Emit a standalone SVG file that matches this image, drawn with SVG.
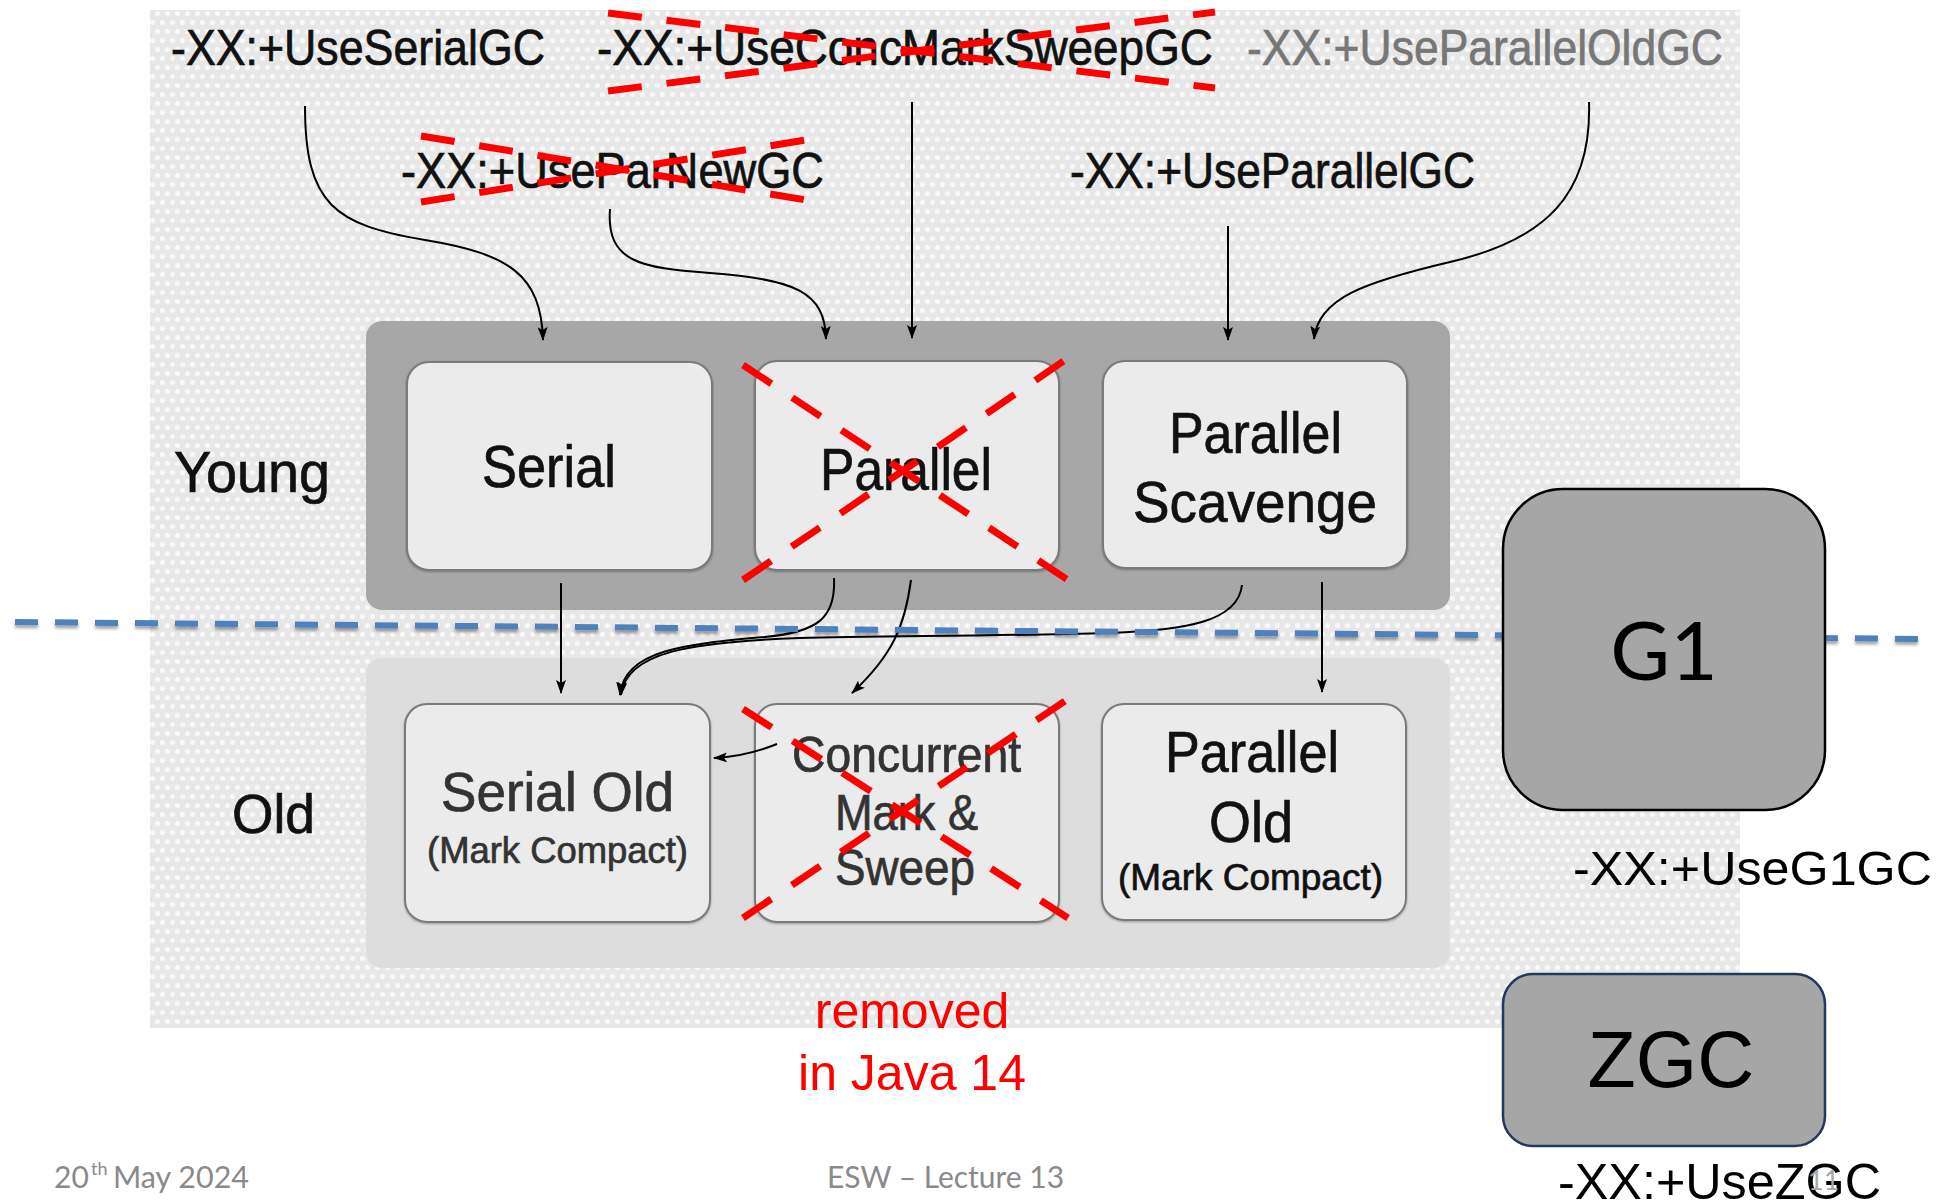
<svg xmlns="http://www.w3.org/2000/svg" width="1951" height="1202" viewBox="0 0 1951 1202">
  <defs>
    <pattern id="dots" width="10" height="18" patternUnits="userSpaceOnUse">
      <rect width="10" height="18" fill="#e7e7e7"/>
      <circle cx="2.5" cy="4.5" r="2.6" fill="#f8f8f8"/>
      <circle cx="7.5" cy="13.5" r="2.6" fill="#f8f8f8"/>
    </pattern>
    <marker id="head" viewBox="0 0 14 10" refX="13" refY="5" markerWidth="14" markerHeight="10" markerUnits="userSpaceOnUse" orient="auto">
      <path d="M0,0 L14,5 L0,10 L3,5 z" fill="#000"/>
    </marker>
    <filter id="dashShadow" x="-5%" y="-200%" width="110%" height="500%">
      <feDropShadow dx="0" dy="3" stdDeviation="1.5" flood-color="#000" flood-opacity="0.35"/>
    </filter>
    <filter id="boxShadow" x="-10%" y="-10%" width="120%" height="120%">
      <feDropShadow dx="0" dy="1" stdDeviation="1.2" flood-color="#000" flood-opacity="0.3"/>
    </filter>
  </defs>
  <style>
    .lbl { font-family: "Liberation Sans", Arial, sans-serif; fill: #111; stroke: #111; stroke-width: 0.7; }
    .dim { fill: #333; stroke: #333; }
    .grey { fill: #777; stroke: #777; }
    .plain { fill: #000; stroke: none; }
    .inner { fill: #ebebeb; stroke: #7a7a7a; stroke-width: 2; }
    .conn { fill: none; stroke: #000; stroke-width: 2; marker-end: url(#head); }
    .cross { fill: none; stroke: #ff0000; stroke-width: 7; stroke-dasharray: 34 25; }
    .calibri { font-family: Lato, "Liberation Sans", sans-serif; fill: #8a8a8a; }
  </style>

  <rect width="1951" height="1202" fill="#ffffff"/>
  <!-- textured backdrop behind the collector chart -->
  <rect x="150" y="10" width="1590" height="1018" fill="url(#dots)"/>

  <!-- generation containers -->
  <g id="young-gen">
    <rect x="366" y="321" width="1084" height="289" rx="16" fill="#a7a7a7"/>
    <text class="lbl" x="174" y="492" font-size="58" textLength="156" lengthAdjust="spacingAndGlyphs">Young</text>
  </g>
  <g id="old-gen">
    <rect x="366" y="658" width="1084" height="310" rx="16" fill="#dddddd"/>
    <text class="lbl" x="232" y="833" font-size="56" textLength="83" lengthAdjust="spacingAndGlyphs">Old</text>
  </g>

  <!-- young collectors -->
  <g id="serial">
    <rect class="inner" x="407" y="362" width="305" height="208" rx="22" filter="url(#boxShadow)"/>
    <text class="lbl" x="482" y="487" font-size="60" textLength="134" lengthAdjust="spacingAndGlyphs">Serial</text>
  </g>
  <g id="parallel">
    <rect class="inner" x="755" y="361" width="304" height="209" rx="22" filter="url(#boxShadow)"/>
    <text class="lbl" x="820" y="490" font-size="59" textLength="172" lengthAdjust="spacingAndGlyphs">Parallel</text>
  </g>
  <g id="parallel-scavenge">
    <rect class="inner" x="1103" y="361" width="304" height="207" rx="22" filter="url(#boxShadow)"/>
    <text class="lbl" x="1169" y="453" font-size="58" textLength="173" lengthAdjust="spacingAndGlyphs">Parallel</text>
    <text class="lbl" x="1133" y="522" font-size="58" textLength="244" lengthAdjust="spacingAndGlyphs">Scavenge</text>
  </g>

  <!-- old collectors -->
  <g id="serial-old">
    <rect class="inner" x="405" y="704" width="305" height="218" rx="22" filter="url(#boxShadow)"/>
    <text class="lbl dim" x="441" y="811" font-size="55" textLength="233" lengthAdjust="spacingAndGlyphs">Serial Old</text>
    <text class="lbl dim" x="427" y="863" font-size="37" textLength="261" lengthAdjust="spacingAndGlyphs">(Mark Compact)</text>
  </g>
  <g id="cms">
    <rect class="inner" x="755" y="704" width="304" height="218" rx="22" filter="url(#boxShadow)"/>
    <text class="lbl dim" x="792" y="772" font-size="50" textLength="229" lengthAdjust="spacingAndGlyphs">Concurrent</text>
    <text class="lbl dim" x="835" y="830" font-size="50" textLength="143" lengthAdjust="spacingAndGlyphs">Mark &amp;</text>
    <text class="lbl dim" x="835" y="885" font-size="50" textLength="140" lengthAdjust="spacingAndGlyphs">Sweep</text>
  </g>
  <g id="parallel-old">
    <rect class="inner" x="1102" y="704" width="304" height="216" rx="22" filter="url(#boxShadow)"/>
    <text class="lbl" x="1165" y="772" font-size="58" textLength="174" lengthAdjust="spacingAndGlyphs">Parallel</text>
    <text class="lbl" x="1209" y="842" font-size="58" textLength="84" lengthAdjust="spacingAndGlyphs">Old</text>
    <text class="lbl" x="1118" y="890" font-size="37" textLength="265" lengthAdjust="spacingAndGlyphs">(Mark Compact)</text>
  </g>

  <!-- JVM flag labels -->
  <g id="flag-serial">
    <text class="lbl" x="171" y="65" font-size="50" textLength="374" lengthAdjust="spacingAndGlyphs">-XX:+UseSerialGC</text>
  </g>
  <g id="flag-cms">
    <text class="lbl" x="597" y="65" font-size="50" textLength="616" lengthAdjust="spacingAndGlyphs">-XX:+UseConcMarkSweepGC</text>
  </g>
  <g id="flag-parallel-old">
    <text class="lbl grey" x="1247" y="65" font-size="50" textLength="476" lengthAdjust="spacingAndGlyphs">-XX:+UseParallelOldGC</text>
  </g>
  <g id="flag-parnew">
    <text class="lbl" x="401" y="188" font-size="50" textLength="423" lengthAdjust="spacingAndGlyphs">-XX:+UseParNewGC</text>
  </g>
  <g id="flag-parallel">
    <text class="lbl" x="1070" y="188" font-size="50" textLength="405" lengthAdjust="spacingAndGlyphs">-XX:+UseParallelGC</text>
  </g>

  <!-- connectors -->
  <g id="connectors">
    <path class="conn" d="M305,106 C305,205 335,225 425,240 C510,254 541,275 543,340"/>
    <path class="conn" d="M610,209 C606,262 640,268 710,273 C795,279 825,292 826,339"/>
    <path class="conn" d="M912,102 L912,338"/>
    <path class="conn" d="M1228,226 L1228,340"/>
    <path class="conn" d="M1589,102 C1592,195 1545,240 1450,262 C1365,282 1318,298 1314,339"/>
    <path class="conn" d="M561,583 L561,693"/>
    <path class="conn" d="M834,578 C836,618 818,632 765,637 C685,644 624,650 620,695"/>
    <path class="conn" d="M1242,585 C1238,622 1185,630 1110,633 C1000,636 880,636 800,638 C690,642 626,652 621,695"/>
    <path class="conn" d="M911,580 C905,625 893,655 852,693"/>
    <path class="conn" d="M1322,582 L1322,692"/>
    <path class="conn" d="M777,744 C757,752 737,757 714,758"/>
  </g>

  <!-- removed collectors and flags -->
  <g id="strike-outs">
    <path class="cross" d="M608,13 L1215,88 M608,91 L1215,12"/>
    <path class="cross" d="M421,136 L806,200 M421,202 L806,140"/>
    <path class="cross" d="M743,365 L1068,580 M743,580 L1068,358"/>
    <path class="cross" d="M743,709 L1068,918 M743,918 L1068,699"/>
  </g>

  <!-- young / old boundary -->
  <path id="generation-divider" d="M15,622 L1928,639" fill="none" stroke="#4f81bd" stroke-width="6" stroke-dasharray="23 17" filter="url(#dashShadow)"/>

  <g id="removed-note">
    <text x="912" y="1028" font-family="Liberation Sans, Arial, sans-serif" font-size="50" fill="#ff0000" text-anchor="middle">removed</text>
    <text x="912" y="1090" font-family="Liberation Sans, Arial, sans-serif" font-size="50" fill="#ff0000" text-anchor="middle">in Java 14</text>
  </g>

  <!-- region-based collectors -->
  <g id="g1">
    <rect x="1503" y="489" width="322" height="321" rx="60" fill="#a6a6a6" stroke="#000" stroke-width="2.5"/>
    <text x="1664" y="680" font-family="Lato, Liberation Sans, sans-serif" font-size="82" fill="#000" text-anchor="middle">G1</text>
    <text class="lbl plain" x="1573" y="885" font-size="49" textLength="359" lengthAdjust="spacingAndGlyphs">-XX:+UseG1GC</text>
  </g>
  <g id="zgc">
    <rect x="1503" y="974" width="322" height="172" rx="30" fill="#a6a6a6" stroke="#1f3a5c" stroke-width="2.5"/>
    <text x="1671" y="1087" font-family="Liberation Sans, Arial, sans-serif" font-size="79" fill="#000" text-anchor="middle">ZGC</text>
    <text class="lbl plain" x="1558" y="1199" font-size="50" textLength="323" lengthAdjust="spacingAndGlyphs">-XX:+UseZGC</text>
  </g>

  <!-- slide footer -->
  <g id="footer">
    <text class="calibri" x="54" y="1188" font-size="30">20</text>
    <text class="calibri" x="91" y="1175" font-size="18">th</text>
    <text class="calibri" x="113" y="1188" font-size="30" textLength="136" lengthAdjust="spacingAndGlyphs">May 2024</text>
    <text class="calibri" x="827" y="1188" font-size="30" textLength="237" lengthAdjust="spacingAndGlyphs">ESW – Lecture 13</text>
    <text class="calibri" x="1808" y="1190" font-size="27" style="fill:#a8a8a8">11</text>
  </g>
</svg>
